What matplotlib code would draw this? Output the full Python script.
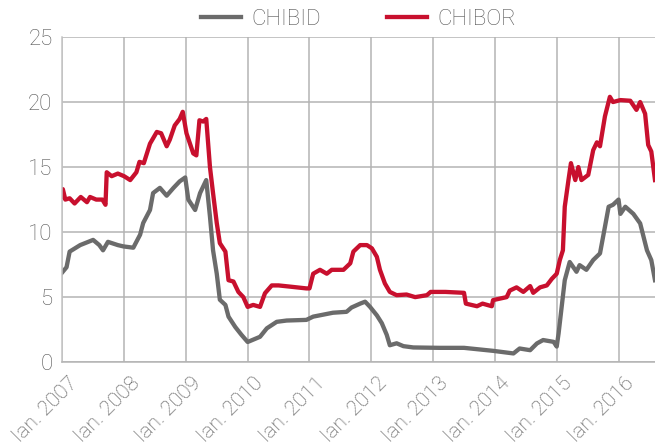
import matplotlib
matplotlib.use('Agg')
import matplotlib.pyplot as plt
import matplotlib.transforms as mtransforms
import numpy as np

# time in decimal years, values in %
chibor_t = [2007.00, 2007.01, 2007.05, 2007.12, 2007.20, 2007.30, 2007.40, 2007.45, 2007.55, 2007.65,
            2007.70, 2007.72, 2007.80, 2007.90, 2008.00, 2008.10, 2008.20, 2008.25, 2008.32, 2008.42,
            2008.53, 2008.60, 2008.69, 2008.74, 2008.82, 2008.90, 2008.95, 2009.01, 2009.12, 2009.17,
            2009.22, 2009.28, 2009.33, 2009.39, 2009.44, 2009.50, 2009.55, 2009.64, 2009.69, 2009.77,
            2009.85, 2009.93, 2010.00, 2010.09, 2010.20, 2010.28, 2010.39, 2010.50, 2010.70, 2010.95,
            2011.00, 2011.06, 2011.17, 2011.28, 2011.36, 2011.55, 2011.66, 2011.71, 2011.82, 2011.93,
            2012.01, 2012.09, 2012.14, 2012.22, 2012.30, 2012.41, 2012.57, 2012.71, 2012.90, 2012.96,
            2013.20, 2013.50, 2013.53, 2013.71, 2013.80, 2013.95, 2013.97, 2014.19, 2014.24, 2014.35,
            2014.46, 2014.57, 2014.62, 2014.73, 2014.84, 2014.92, 2015.00, 2015.05, 2015.10, 2015.13,
            2015.19, 2015.23, 2015.30, 2015.35, 2015.40, 2015.51, 2015.59, 2015.65, 2015.70, 2015.78,
            2015.86, 2015.91, 2016.03, 2016.19, 2016.29, 2016.35, 2016.43, 2016.48, 2016.53, 2016.59]
chibor = [12.7, 13.3, 12.5, 12.6, 12.2, 12.7, 12.3, 12.7, 12.5, 12.5,
          12.1, 14.6, 14.3, 14.5, 14.3, 14.0, 14.6, 15.4, 15.3, 16.8,
          17.7, 17.6, 16.6, 17.1, 18.2, 18.7, 19.25, 17.6, 16.05, 15.9,
          18.6, 18.5, 18.7, 15.0, 13.0, 10.7, 9.15, 8.5, 6.3, 6.2,
          5.4, 5.0, 4.25, 4.4, 4.25, 5.3, 5.9, 5.9, 5.8, 5.67,
          5.67, 6.8, 7.1, 6.8, 7.1, 7.1, 7.6, 8.5, 9.0, 9.0,
          8.75, 8.1, 7.1, 6.05, 5.4, 5.15, 5.2, 5.0, 5.15, 5.4,
          5.4, 5.33, 4.5, 4.3, 4.5, 4.3, 4.77, 5.0, 5.5, 5.75,
          5.4, 5.85, 5.33, 5.75, 5.9, 6.4, 6.8, 7.85, 8.6, 11.95,
          14.0, 15.3, 14.0, 15.0, 14.0, 14.4, 16.3, 16.9, 16.6, 18.9,
          20.4, 20.0, 20.15, 20.1, 19.4, 20.0, 19.1, 16.7, 16.2, 14.0]

chibid_t = [2007.00, 2007.07, 2007.12, 2007.29, 2007.50, 2007.60, 2007.66, 2007.74, 2007.90, 2007.99,
            2008.15, 2008.26, 2008.31, 2008.42, 2008.47, 2008.58, 2008.69, 2008.80, 2008.90, 2008.99,
            2009.04, 2009.15, 2009.23, 2009.33, 2009.39, 2009.44, 2009.50, 2009.55, 2009.64, 2009.69,
            2009.80, 2009.90, 2010.00, 2010.20, 2010.31, 2010.47, 2010.63, 2010.95, 2011.06, 2011.22,
            2011.38, 2011.60, 2011.68, 2011.82, 2011.90, 2011.98, 2012.09, 2012.17, 2012.25, 2012.30,
            2012.41, 2012.52, 2012.68, 2013.10, 2013.50, 2013.97, 2014.30, 2014.40, 2014.57, 2014.68,
            2014.78, 2014.95, 2015.00, 2015.03, 2015.08, 2015.13, 2015.21, 2015.32, 2015.37, 2015.48,
            2015.59, 2015.70, 2015.78, 2015.84, 2015.91, 2016.00, 2016.03, 2016.11, 2016.24, 2016.35,
            2016.46, 2016.53, 2016.59]
chibid = [6.9, 7.3, 8.5, 9.0, 9.4, 9.0, 8.6, 9.25, 9.0, 8.9,
          8.8, 9.8, 10.7, 11.7, 13.0, 13.4, 12.8, 13.4, 13.9, 14.2,
          12.5, 11.7, 13.0, 14.0, 11.2, 8.6, 6.8, 4.8, 4.4, 3.5,
          2.7, 2.1, 1.55, 1.95, 2.6, 3.1, 3.2, 3.25, 3.5, 3.65,
          3.8, 3.87, 4.2, 4.5, 4.65, 4.25, 3.6, 3.0, 2.1, 1.3,
          1.45, 1.23, 1.13, 1.1, 1.1, 0.87, 0.67, 1.05, 0.92, 1.44,
          1.7, 1.56, 1.2, 2.2, 4.25, 6.3, 7.7, 6.95, 7.46, 7.1,
          7.85, 8.36, 10.4, 11.95, 12.1, 12.5, 11.4, 11.95, 11.4, 10.67,
          8.6, 7.85, 6.3]

years = list(range(2007, 2017))
year_labels = ['Ian. %d' % y for y in years]

plt.rcParams['font.family'] = ['Roboto', 'DejaVu Sans']
text_col = '#555555'

fig = plt.figure(figsize=(6.55, 4.46), dpi=100)
ax = fig.add_axes([0.095, 0.188, 0.905, 0.729])

ax.plot(chibid_t, chibid, color='#6b6b6b', lw=3.1, label='CHIBID', solid_joinstyle='round')
ax.plot(chibor_t, chibor, color='#c8102e', lw=3.1, label='CHIBOR', solid_joinstyle='round')

ax.set_xlim(2007.0, 2016.59)
ax.set_ylim(0, 25)
ax.tick_params(length=0, pad=7)
ax.set_yticks([0, 5, 10, 15, 20, 25])
ax.set_xticks(years)
ax.set_xticklabels(year_labels, rotation=45, ha='right', fontsize=15,
                   color=text_col, fontweight='light')
# labels sit a bit right of the gridline in the original
offset = mtransforms.ScaledTranslation(0.19, -0.02, fig.dpi_scale_trans)
for lab in ax.get_xticklabels():
    lab.set_transform(lab.get_transform() + offset)
for lab in ax.get_yticklabels():
    lab.set_fontsize(16)
    lab.set_color(text_col)
    lab.set_fontweight('light')

ax.grid(True, color='#b4b4b4', lw=1.1)
ax.set_axisbelow(True)
for s in ['top', 'right']:
    ax.spines[s].set_visible(False)
ax.spines['left'].set_color('#c4c4c4')
ax.spines['bottom'].set_color('#b4b4b4')
ax.spines['left'].set_linewidth(1.1)
ax.spines['bottom'].set_linewidth(1.1)

leg = ax.legend(loc='lower center', bbox_to_anchor=(0.5, 0.995), ncol=2, frameon=False,
                fontsize=16, handlelength=1.8, columnspacing=3.0, handletextpad=0.45,
                borderaxespad=0.0)
for t in leg.get_texts():
    t.set_color(text_col)
    t.set_fontweight('light')

fig.savefig('out.png', dpi=100)
